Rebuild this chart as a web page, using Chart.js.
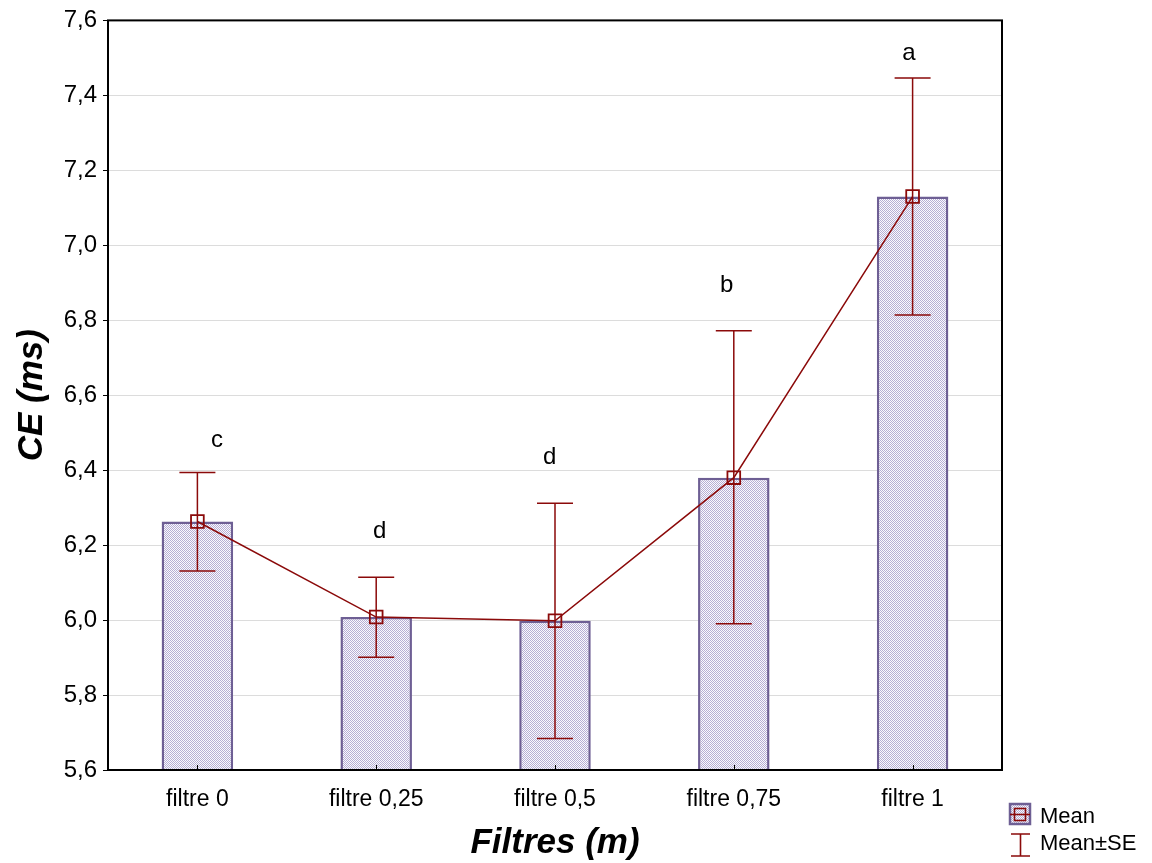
<!DOCTYPE html>
<html>
<head>
<meta charset="utf-8">
<script src="https://cdn.jsdelivr.net/npm/chart.js@4.4.0/dist/chart.umd.min.js"></script>
<style>
html,body{margin:0;padding:0;background:#fff;}
#wrap{width:1152px;height:863px;position:relative;}
</style>
</head>
<body>
<div id="wrap"><canvas id="c" width="1152" height="863"></canvas></div>
<script>
const categories = ['filtre 0', 'filtre 0,25', 'filtre 0,5', 'filtre 0,75', 'filtre 1'];
const means = [6.263, 6.008, 5.998, 6.380, 7.130];
const upperSE = [6.394, 6.114, 6.312, 6.772, 7.446];
const lowerSE = [6.131, 5.901, 5.684, 5.990, 6.814];
const letters = ['c', 'd', 'd', 'b', 'a'];
const letterY = [6.480, 6.237, 6.434, 6.892, 7.512];
const letterShift = [0.11, 0.02, -0.03, -0.04, -0.02];
const yTicks = [5.6, 5.8, 6.0, 6.2, 6.4, 6.6, 6.8, 7.0, 7.2, 7.4, 7.6];

const FONT = "'Liberation Sans', Arial, sans-serif";
const RED = '#8b0a0a';
const BAR_BORDER = '#6e5f94';

function makePattern() {
  const p = document.createElement('canvas');
  p.width = 2; p.height = 2;
  const g = p.getContext('2d');
  g.fillStyle = '#fafafd'; g.fillRect(0, 0, 2, 2);
  g.fillStyle = '#b6aed4';
  g.fillRect(0, 0, 1, 1); g.fillRect(1, 1, 1, 1);
  return document.getElementById('c').getContext('2d').createPattern(p, 'repeat');
}
const pattern = makePattern();

const extras = {
  id: 'extras',
  afterDatasetsDraw(chart) {
    const ctx = chart.ctx;
    const x = chart.scales.x, y = chart.scales.y;
    const a = chart.chartArea;
    ctx.save();
    // frame
    ctx.strokeStyle = '#000';
    ctx.lineWidth = 2;
    ctx.strokeRect(a.left, a.top, a.right - a.left, a.bottom - a.top);
    // x inner tick marks
    ctx.lineWidth = 1;
    categories.forEach((c, i) => {
      const px = Math.round(x.getPixelForValue(i)) + 0.5;
      ctx.beginPath(); ctx.moveTo(px, a.bottom); ctx.lineTo(px, a.bottom - 5); ctx.stroke();
    });
    // error bars
    ctx.strokeStyle = RED;
    ctx.lineWidth = 1.5;
    const cap = 18;
    categories.forEach((c, i) => {
      const px = x.getPixelForValue(i);
      const pu = y.getPixelForValue(upperSE[i]);
      const pl = y.getPixelForValue(lowerSE[i]);
      ctx.beginPath();
      ctx.moveTo(px, pu); ctx.lineTo(px, pl);
      ctx.moveTo(px - cap, pu); ctx.lineTo(px + cap, pu);
      ctx.moveTo(px - cap, pl); ctx.lineTo(px + cap, pl);
      ctx.stroke();
    });
    // letters
    ctx.fillStyle = '#000';
    ctx.font = '24px ' + FONT;
    ctx.textAlign = 'center';
    ctx.textBaseline = 'middle';
    categories.forEach((c, i) => {
      ctx.fillText(letters[i], x.getPixelForValue(i + letterShift[i]), y.getPixelForValue(letterY[i]));
    });
    // legend
    ctx.fillStyle = pattern;
    ctx.fillRect(1010, 804, 20, 20);
    ctx.strokeStyle = BAR_BORDER; ctx.lineWidth = 2.5;
    ctx.strokeRect(1010, 804, 20, 20);
    ctx.strokeStyle = RED; ctx.lineWidth = 1.6;
    ctx.beginPath(); ctx.moveTo(1010, 814.5); ctx.lineTo(1030, 814.5); ctx.stroke();
    ctx.strokeRect(1014.5, 808.5, 11, 12);
    ctx.beginPath();
    ctx.moveTo(1020.5, 834); ctx.lineTo(1020.5, 856);
    ctx.moveTo(1011, 834); ctx.lineTo(1030, 834);
    ctx.moveTo(1011, 856); ctx.lineTo(1030, 856);
    ctx.stroke();
    ctx.fillStyle = '#000';
    ctx.font = '22px ' + FONT;
    ctx.textAlign = 'left';
    ctx.fillText('Mean', 1040, 817);
    ctx.fillText('Mean\u00B1SE', 1040, 844);
    ctx.restore();
  }
};

new Chart(document.getElementById('c'), {
  data: {
    labels: categories,
    datasets: [
      {
        type: 'line',
        label: 'Mean',
        data: means,
        borderColor: RED,
        borderWidth: 1.5,
        pointStyle: 'rect',
        pointRadius: 9,
        pointBorderWidth: 1.8,
        pointBorderColor: RED,
        pointBackgroundColor: 'rgba(0,0,0,0)',
        tension: 0,
        order: 0
      },
      {
        type: 'bar',
        label: 'Mean bars',
        data: means,
        backgroundColor: pattern,
        borderColor: BAR_BORDER,
        borderWidth: 2.5,
        borderSkipped: false,
        barPercentage: 0.4,
        categoryPercentage: 1.0,
        order: 1
      }
    ]
  },
  options: {
    responsive: false,
    animation: false,
    layout: { padding: { left: 0, top: 19, right: 150, bottom: 0 } },
    plugins: { legend: { display: false }, tooltip: { enabled: false } },
    scales: {
      x: {
        type: 'category',
        offset: true,
        grid: { display: false, drawTicks: false },
        border: { display: false },
        ticks: { color: '#000', font: { family: FONT, size: 23 }, padding: 16, maxRotation: 0 },
        title: { display: true, text: 'Filtres (m)', color: '#000', font: { family: FONT, size: 35, weight: 'bold', style: 'italic', lineHeight: 1.1 }, padding: { top: 0, bottom: 0 } },
        afterFit(s) { s.height = 93; }
      },
      y: {
        type: 'linear',
        min: 5.6,
        max: 7.6,
        afterBuildTicks(s) { s.ticks = yTicks.map(v => ({ value: v })); },
        grid: { color: '#dcdcdc', lineWidth: 1, drawTicks: true, tickLength: 5, tickColor: '#000' },
        border: { display: false },
        ticks: {
          color: '#000',
          font: { family: FONT, size: 24 },
          padding: 6,
          callback: v => v.toFixed(1).replace('.', ',')
        },
        title: { display: true, text: 'CE (ms)', color: '#000', font: { family: FONT, size: 35, weight: 'bold', style: 'italic', lineHeight: 1.1 }, padding: { top: 13, bottom: 0 } },
        afterFit(s) { s.width = 108; }
      }
    }
  },
  plugins: [extras]
});
</script>
</body>
</html>
